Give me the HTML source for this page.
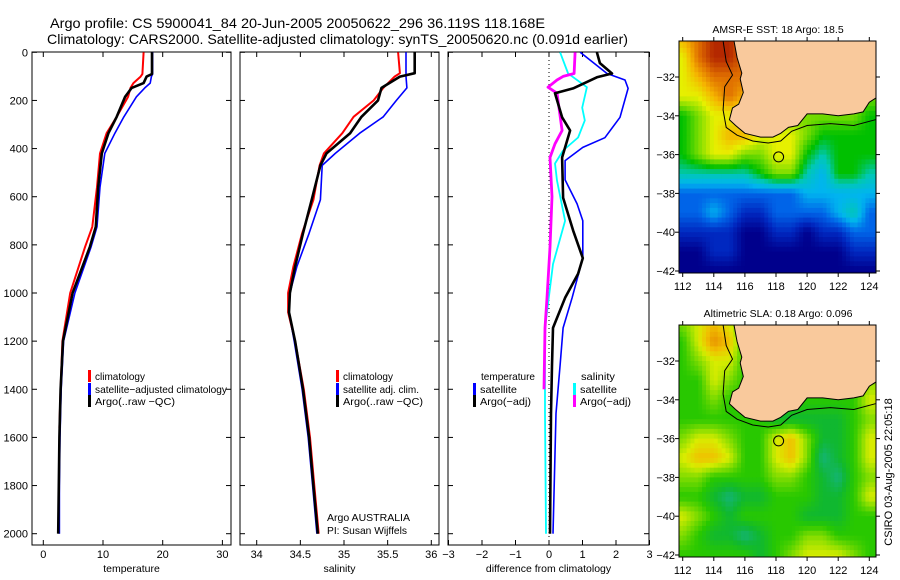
<!DOCTYPE html>
<html><head><meta charset="utf-8"><style>
html,body{margin:0;padding:0;background:#fff;}
svg{display:block;font-family:"Liberation Sans",Arial,sans-serif;}
</style></head><body>
<svg id="fig" width="900" height="580" viewBox="0 0 900 580" xmlns="http://www.w3.org/2000/svg">
<rect width="900" height="580" fill="#fff"/>
<text x="50" y="28" font-size="14" textLength="495" lengthAdjust="spacingAndGlyphs">Argo profile: CS 5900041_84 20-Jun-2005 20050622_296 36.119S 118.168E</text>
<text x="47" y="44" font-size="14" textLength="581" lengthAdjust="spacingAndGlyphs">Climatology: CARS2000. Satellite-adjusted climatology: synTS_20050620.nc (0.091d earlier)</text>
<g id="plots"></g>
<text transform="translate(892,472) rotate(-90)" font-size="11" text-anchor="middle">CSIRO 03-Aug-2005 22:05:18</text>
</svg>
<script>
// ---------- data ----------
const depthTicks=[0,200,400,600,800,1000,1200,1400,1600,1800,2000];
const tempTicks=[0,10,20,30];
const salTicks=[34,34.5,35,35.5,36];
const diffTicks=[-3,-2,-1,0,1,2,3];
const tDepth=[0,90,101,128,148,185,268,336,420,560,725,808,1000,1200,1400,1600,1800,2000];
const tArgo=[18.2,18.2,17.3,16.8,14.8,13.7,12.3,10.9,9.8,9.2,8.8,7.8,4.9,3.3,2.9,2.7,2.6,2.5];
const tClimDepth=[0,90,101,128,148,185,268,336,420,560,725,808,1000,1200,1400,1560];
const tClim=[16.8,16.6,16.3,15.1,14.6,14.2,12.3,10.6,9.5,9.0,8.2,7.0,4.5,3.2,2.9,2.7];
const tSat=[18.3,18.3,18.1,17.9,17.0,15.6,13.5,12.0,10.3,9.5,9.0,8.0,5.3,3.4,3.0,2.8,2.7,2.7];
const sDepth=[0,87,101,148,200,268,336,420,470,613,752,890,1000,1080,1200,1400,1600,1800,2000];
const sArgo=[35.81,35.81,35.64,35.43,35.39,35.2,35.07,34.80,34.73,34.63,34.53,34.44,34.38,34.37,34.44,34.53,34.6,34.65,34.7];
const sClim=[35.62,35.64,35.58,35.45,35.34,35.11,34.98,34.77,34.72,34.65,34.52,34.42,34.36,34.36,34.44,34.54,34.61,34.66,34.71];
const sSat=[35.71,35.71,35.71,35.72,35.6,35.45,35.18,34.9,34.75,34.73,34.6,34.46,34.38,34.37,34.43,34.52,34.59,34.64,34.69];
const dTSatDepth=[0,88,115,150,270,355,395,450,530,630,700,855,1020,1145,1300,1500,2000];
const dTSat=[0.93,1.73,2.27,2.36,2.12,1.67,1.01,0.48,0.48,0.84,1.01,1.01,0.69,0.42,0.33,0.21,0.12];
const dTArgoDepth=[0,45,88,104,150,170,270,325,437,604,740,855,920,1020,1145,1300,1500,2000];
const dTArgo=[1.43,1.52,1.88,1.43,0.72,0.18,0.39,0.63,0.39,0.42,0.72,1.01,0.87,0.48,0.12,0.09,0.06,0.03];
const dSSatDepth=[0,88,145,230,283,354,408,462,533,700,880,1145,1300,1500,2000];
const dSSat=[0.33,0.57,1.13,0.99,1.07,0.87,0.42,0.18,0.24,0.48,0.12,-0.12,-0.12,-0.12,-0.09];
const dSArgoDepth=[0,88,100,115,145,170,325,380,437,600,810,1020,1145,1400];
const dSArgo=[0.78,0.75,0.42,0.24,-0.03,0.24,0.39,0.18,0.03,0.09,0.03,-0.06,-0.12,-0.15];
const latTicks=[-32,-34,-36,-38,-40,-42];
const lonTicks=[112,114,116,118,120,122,124];
const gridLats=[-30,-31,-32,-33,-34,-35,-36,-37,-38,-39,-40,-41,-42];
const gridLons=[112,113,114,115,116,117,118,119,120,121,122,123,124];
const sstGrid=[
[8,9,10,10,9,6,6,6,6,6,6,6,6],
[7,9,10,10,9,6,6,6,6,6,6,6,6],
[7,8,9,9,9,6,6,6,6,6,6,6,6],
[7,7,8,9,8,6,6,6,6,6,6,6,6],
[5,6,7,7,7,6,6,6,6,6,6,6,5],
[5,6,7,8,8,7,7,7,6,5,5,5,5],
[5,6,7,7,6,6,7,7,5,4,5,5,5],
[4,4,4,4,4,5,6,6,4,3,5,5,4],
[2,2,2,2,2,2,2,2,3,3,3,3,3],
[2,2,3,2,1,1,2,2,2,2,3,4,2],
[1,1,1,1,0,0,1,1,0,1,1,2,2],
[0,0,1,1,0,0,0,0,0,0,0,1,1],
[0,0,0,0,0,0,0,0,0,0,0,0,0]];
const slaGrid=[
[3,4,5,4,2,2,2,2,2,2,2,2,2],
[2,4,6,5,2,2,2,2,2,2,2,2,2],
[2,3,4,4,2,2,2,2,2,2,2,2,2],
[2,2,4,3,2,2,2,2,2,2,2,2,3],
[2,2,3,2,2,2,2,2,2,2,2,2,4],
[2,2,2,2,2,2,1,1,1,1,1,2,3],
[3,4,4,3,2,2,4,5,3,1,1,2,4],
[4,5,5,4,2,2,4,5,3,0,1,2,4],
[3,3,2,2,2,2,3,3,2,1,0,2,3],
[2,2,1,0,1,1,2,2,2,1,1,2,4],
[4,3,2,1,2,2,2,2,1,1,1,2,2],
[3,2,1,1,0,1,2,2,3,3,2,2,2],
[2,2,2,2,2,1,2,3,4,4,4,3,2]];
const coastLon=[115.3,115.5,115.8,115.7,115.9,115.6,115.2,115.0,115.4,116.0,117.0,117.8,118.3,118.8,119.4,120.0,121.0,122.0,123.0,123.6,124.0,124.4];
const coastLat=[-30.14,-31,-31.8,-32.1,-32.8,-33.4,-33.6,-34.2,-34.5,-34.9,-35.1,-35.1,-34.9,-34.6,-34.5,-33.9,-33.9,-34.0,-33.9,-33.8,-33.3,-33.1];
const isoLon=[114.6,114.8,115.2,114.7,114.6,114.8,115.5,116.5,117.5,118.3,119.0,120.0,121.5,123.0,124.4];
const isoLat=[-30.14,-31.2,-31.9,-32.5,-33.7,-34.6,-35.0,-35.3,-35.4,-35.3,-34.8,-34.5,-34.4,-34.5,-34.2];
const argoLon=118.168, argoLat=-36.119;

// ---------- rendering ----------
const NS='http://www.w3.org/2000/svg';
const root=document.getElementById('plots');
function mk(tag,attrs,parent){const e=document.createElementNS(NS,tag);for(const k in attrs)e.setAttribute(k,attrs[k]);(parent||root).appendChild(e);return e;}
const Y0=52.3, PY=0.2407, TOP=52, BOT=545;
const yD=d=>Y0+d*PY;
const panels=[
 {name:'temperature',x0:32,x1:231,v0:0,ppu:5.97,o:43.3,ticks:tempTicks,title:'temperature'},
 {name:'salinity',x0:240,x1:439,v0:34,ppu:87.3,o:256.7,ticks:salTicks,title:'salinity'},
 {name:'difference',x0:448,x1:649,v0:0,ppu:33.5,o:549,ticks:diffTicks,title:'difference from climatology'}];
panels.forEach(p=>{p.x=v=>p.o+(v-p.v0)*p.ppu;});
panels.forEach((p,i)=>{
  const g=mk('g',{});
  
  
  const fr=mk('rect',{x:p.x0,y:TOP,width:p.x1-p.x0,height:BOT-TOP,fill:'none',stroke:'#000','stroke-width':1},g);
  
  
  depthTicks.forEach(d=>{
    mk('line',{x1:p.x0,x2:p.x0+5,y1:yD(d),y2:yD(d),stroke:'#000'},g);
    mk('line',{x1:p.x1-5,x2:p.x1,y1:yD(d),y2:yD(d),stroke:'#000'},g);
    if(i===0){const t=mk('text',{x:28,y:yD(d)+4,'font-size':11,'text-anchor':'end'},g);t.textContent=d;
      
      }
  });
  p.ticks.forEach(v=>{
    const X=p.x(v);
    mk('line',{x1:X,x2:X,y1:TOP,y2:TOP+5,stroke:'#000'},g);
    mk('line',{x1:X,x2:X,y1:BOT-5,y2:BOT,stroke:'#000'},g);
    const t=mk('text',{x:X,y:558,'font-size':11,'text-anchor':'middle'},g);t.textContent=(v<0?'\u2212'+(-v):v);
    
    
  });
  const at=mk('text',{x:(p.x0+p.x1)/2,y:572,'font-size':10.5,'text-anchor':'middle'},g);at.textContent=p.title;
  
  
});
function line(p,depths,vals,color,w,name){
  const pts=depths.map((d,k)=>p.x(vals[k]).toFixed(1)+','+yD(d).toFixed(1)).join(' ');
  const e=mk('polyline',{points:pts,fill:'none',stroke:color,'stroke-width':w,'stroke-linejoin':'round'});
  
  
}
const zl=mk('line',{x1:panels[2].x(0),x2:panels[2].x(0),y1:TOP,y2:BOT,stroke:'#000','stroke-dasharray':'1,3'});


line(panels[0],tClimDepth,tClim,'#f00',2,'temperature-climatology-line');
line(panels[0],tDepth,tSat,'#00f',1.6,'temperature-satellite-line');
line(panels[0],tDepth,tArgo,'#000',2.6,'temperature-argo-line');
line(panels[1],sDepth,sClim,'#f00',2,'salinity-climatology-line');
line(panels[1],sDepth,sSat,'#00f',1.6,'salinity-satellite-line');
line(panels[1],sDepth,sArgo,'#000',2.6,'salinity-argo-line');
line(panels[2],dTSatDepth,dTSat,'#00f',1.6,'diff-temperature-satellite-line');
line(panels[2],dSSatDepth,dSSat,'#0ff',1.8,'diff-salinity-satellite-line');
line(panels[2],dSArgoDepth,dSArgo,'#f0f',2.8,'diff-salinity-argo-line');
line(panels[2],dTArgoDepth,dTArgo,'#000',2.6,'diff-temperature-argo-line');
function leg(x,y,color,label,name,len){
  if(color){const m=mk('rect',{x:x,y:y-6,width:3,height:12,fill:color});
    
    }
  const a={x:x+7,y:y+4,'font-size':10.5};
  if(len){a.textLength=len;a.lengthAdjust='spacingAndGlyphs';}
  const t=mk('text',a);t.textContent=label;
  
  
}
leg(88,376,'#f00','climatology','legend-climatology',50);
leg(88,389,'#00f','satellite\u2212adjusted climatology','legend-satellite-adjusted',132);
leg(88,401,'#000','Argo(..raw \u2212QC)','legend-argo',80);
leg(336,376,'#f00','climatology','legend-sal-climatology',50);
leg(336,389,'#00f','satellite adj. clim.','legend-sal-satellite',76);
leg(336,401,'#000','Argo(..raw \u2212QC)','legend-sal-argo',80);
leg(474,376,null,'temperature','legend-temperature-heading',54);
leg(473,389,'#00f','satellite','legend-diff-temp-satellite',37);
leg(473,401,'#000','Argo(\u2212adj)','legend-diff-temp-argo',51);
leg(574,376,null,'salinity','legend-salinity-heading',34);
leg(573,389,'#0ff','satellite','legend-diff-sal-satellite',37);
leg(573,401,'#f0f','Argo(\u2212adj)','legend-diff-sal-argo',51);
leg(320,517,null,'Argo AUSTRALIA','credit-argo-australia',83);
leg(320,530,null,'PI: Susan Wijffels','credit-pi',80);
// maps
const sstCols=['#00008c','#0028c0','#0064e8','#00b4f0','#00c8b4','#00c000','#78dc00','#e6f000','#f5b400','#e07000','#b42800'];
const slaCols=['#14b478','#10b830','#28c800','#80dc00','#d8ec00','#f0c000','#e89000'];
function hex(c){return [1,3,5].map(i=>parseInt(c.substr(i,2),16));}
function cmap(cols,v){v=Math.max(0,Math.min(cols.length-1,v));const i=Math.min(cols.length-2,Math.floor(v)),f=v-i;
  const a=hex(cols[i]),b=hex(cols[i+1]);return 'rgb('+a.map((x,k)=>Math.round(x+(b[k]-x)*f)).join(',')+')';}
function sample(grid,lat,lon){
  const r=Math.max(0,Math.min(gridLats.length-1,-30-lat)),c=Math.max(0,Math.min(gridLons.length-1,lon-112));
  const r0=Math.min(gridLats.length-2,Math.floor(r)),c0=Math.min(gridLons.length-2,Math.floor(c)),fr=r-r0,fc=c-c0;
  return grid[r0][c0]*(1-fr)*(1-fc)+grid[r0][c0+1]*(1-fr)*fc+grid[r0+1][c0]*fr*(1-fc)+grid[r0+1][c0+1]*fr*fc;
}
function drawMap(top,grid,cols,title,name,id){
  const L=679,R=876,H=232,lat0=-32,ly=top+36,ppd=19.4,lx0=682.7,ppx=15.55;
  const xL=lon=>lx0+(lon-112)*ppx, yL=lat=>ly+(lat0-lat)*ppd;
  const g=mk('g',{});
  
  
  const cp=mk('clipPath',{id:id},g);mk('rect',{x:L,y:top,width:R-L,height:H},cp);
  const cg=mk('g',{'clip-path':'url(#'+id+')'},g);
  const st=0.25;
  for(let lat=-30;lat>-42.3;lat-=st){for(let lon=111.75;lon<124.5;lon+=st){
    const e=mk('rect',{x:xL(lon).toFixed(1),y:yL(lat).toFixed(1),width:(ppx*st+0.5).toFixed(1),height:(ppd*st+0.5).toFixed(1),fill:cmap(cols,sample(grid,lat-st/2,lon+st/2))},cg);
    
    
  }}
  let pts=coastLon.map((lo,k)=>xL(lo).toFixed(1)+','+yL(coastLat[k]).toFixed(1));
  pts.push(R+','+yL(-33.1).toFixed(1),R+','+top,xL(115.3).toFixed(1)+','+top);
  const land=mk('polygon',{points:pts.join(' '),fill:'#f9c99c',stroke:'#000','stroke-width':1},cg);
  
  
  const iso=mk('polyline',{points:isoLon.map((lo,k)=>xL(lo).toFixed(1)+','+yL(isoLat[k]).toFixed(1)).join(' '),fill:'none',stroke:'#000','stroke-width':1},cg);
  
  
  const c=mk('circle',{cx:xL(argoLon),cy:yL(argoLat),r:5,fill:'none',stroke:'#000'},g);
  
  
  mk('rect',{x:L,y:top,width:R-L,height:H,fill:'none',stroke:'#000'},g);
  latTicks.forEach(lat=>{const y=yL(lat);
    mk('line',{x1:L-4,x2:L,y1:y,y2:y,stroke:'#000'},g);mk('line',{x1:R,x2:R+4,y1:y,y2:y,stroke:'#000'},g);
    const t=mk('text',{x:L-4,y:y+4,'font-size':11,'text-anchor':'end'},g);t.textContent='\u2212'+(-lat);
    
    });
  lonTicks.forEach(lon=>{const x=xL(lon);
    mk('line',{x1:x,x2:x,y1:top-4,y2:top,stroke:'#000'},g);mk('line',{x1:x,x2:x,y1:top+H,y2:top+H+4,stroke:'#000'},g);
    const t=mk('text',{x:x,y:top+H+17,'font-size':11,'text-anchor':'middle'},g);t.textContent=lon;
    
    });
  const tt=mk('text',{x:778,y:top-8,'font-size':10.5,'text-anchor':'middle'},g);tt.textContent=title;
  
  
}
drawMap(41,sstGrid,sstCols,'AMSR-E SST: 18 Argo: 18.5','sst-map','clipA');
drawMap(325,slaGrid,slaCols,'Altimetric SLA: 0.18 Argo: 0.096','sla-map','clipB');
</script>
</body></html>
